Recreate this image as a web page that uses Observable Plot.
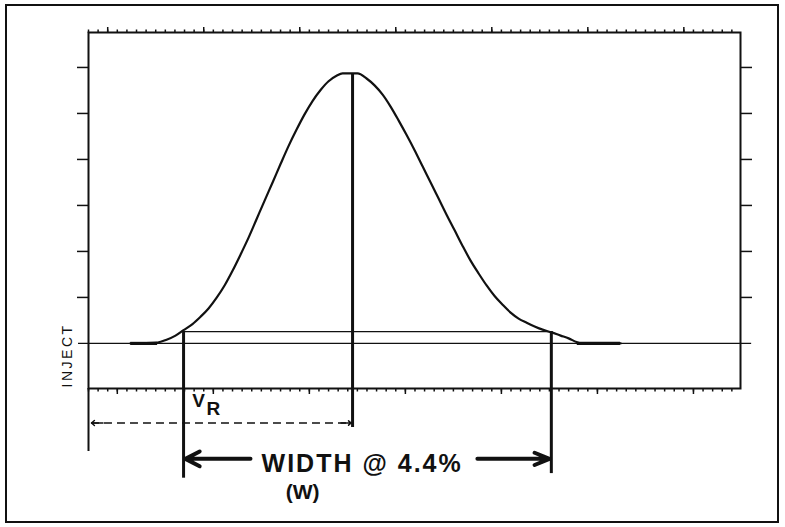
<!DOCTYPE html>
<html>
<head>
<meta charset="utf-8">
<script src="https://cdn.jsdelivr.net/npm/d3@7"></script>
<script src="https://cdn.jsdelivr.net/npm/@observablehq/plot@0.6"></script>
<style>
  html, body { margin: 0; padding: 0; background: #fff; }
  #wrap { position: relative; width: 785px; height: 527px; overflow: hidden; }
  #border { position: absolute; left: 5px; top: 4px; width: 774px; height: 519px; border: 2px solid #111; box-sizing: border-box; pointer-events: none; }
  #chart { position: absolute; left: 0; top: 0; }
</style>
</head>
<body>
<div id="wrap"><div id="chart"></div><div id="border"></div></div>
<script>
// ---- Peak profile (x in minor-tick units, y in y-tick units) ----
const curveX = [2.38, 5.19, 6.13, 7.06, 7.90, 8.83, 9.67, 10.50, 11.33, 12.17, 13.00, 13.83, 14.67, 15.50, 16.33, 17.17, 18.00, 18.83, 19.67, 20.50, 21.33, 22.17, 23.00, 23.83, 24.46, 25.50, 26.02, 26.96, 27.79, 28.63, 29.46, 30.29, 31.13, 31.96, 32.79, 33.63, 34.46, 35.29, 36.13, 36.96, 37.79, 38.63, 39.46, 40.29, 41.13, 41.96, 42.79, 43.63, 44.46, 45.29, 46.23, 47.17, 48.00, 48.83, 49.25, 53.42];
const curveY = [0, 0.02, 0.08, 0.17, 0.29, 0.42, 0.58, 0.76, 0.99, 1.26, 1.58, 1.93, 2.30, 2.70, 3.10, 3.50, 3.90, 4.29, 4.65, 4.98, 5.27, 5.51, 5.70, 5.82, 5.87, 5.87, 5.87, 5.76, 5.61, 5.41, 5.15, 4.85, 4.53, 4.20, 3.85, 3.50, 3.15, 2.80, 2.46, 2.12, 1.80, 1.52, 1.26, 1.03, 0.84, 0.67, 0.54, 0.45, 0.37, 0.30, 0.24, 0.17, 0.11, 0.03, 0, 0];
// flat (overdrawn) tails of the trace on the baseline
const tailStart = [2.4, 48.9];
const tailEnd = [5.2, 53.4];

// ---- Key values ----
const peakX = 25.5, peakY = 5.87;
const widthLevel = 0.258;          // 4.4% of peak height
const widthLeftX = 7.9, widthRightX = 46.2;
const injectLevel = 0;

// ---- Scale domains and ticks ----
const xDomain = [-2, 65.9];
const yDomain = [-0.98, 6.76];
const minorTicks = d3.range(-2, 66);
const topMajorTicks = [0, 10, 20, 30, 40, 50, 60];
const bottomMajorTicks = [1, 11, 21, 31, 41, 51, 61];
const yTicks = [1, 2, 3, 4, 5, 6];

// ---- Annotation levels (data units) ----
const baselineExtent = [-3.04, 67.06];
const peakLineBottom = -1.83, leftLineBottom = -2.93, rightLineBottom = -2.83;
const frameExtBottom = -2.35;
const vrArrowY = -1.73, vrArrowStart = -1.69;
const widthArrowY = -2.51, widthArrowInnerLeft = 14.87, widthArrowInnerRight = 38.5;
const vLabel = {text: "V", x: 8.8, y: -1.26};
const rLabel = {text: "R", x: 10.3, y: -1.43};
const widthLabel = {text: "WIDTH @ 4.4%", x: 26.5, y: -2.63};
const wLabel = {text: "(W)", x: 20.3, y: -3.23};
const injectLabel = {text: "INJECT", x: -4.15, y: -0.26};

const curve = curveX.map((x, i) => ({x, y: curveY[i]}));
const tails = tailStart.map((x1, i) => ({x1, x2: tailEnd[i]}));
const verticals = [
  {x: peakX, y1: peakY, y2: peakLineBottom},
  {x: widthLeftX, y1: widthLevel, y2: leftLineBottom},
  {x: widthRightX, y1: widthLevel, y2: rightLineBottom}
];
const blank = () => "";
const font = "Liberation Sans, Arial, sans-serif";
const ink = "#111";

const chart = Plot.plot({
  width: 785,
  height: 527,
  marginLeft: 88,
  marginRight: 45,
  marginTop: 32,
  marginBottom: 139,
  style: {background: "transparent", color: ink},
  x: {domain: xDomain, label: null},
  y: {domain: yDomain, label: null},
  marks: [
    Plot.axisX({anchor: "top", ticks: minorTicks, tickSize: 3.5, tickFormat: blank, label: null, stroke: ink, strokeWidth: 1.5, strokeOpacity: 1}),
    Plot.axisX({anchor: "top", ticks: topMajorTicks, tickSize: 6, tickFormat: blank, label: null, stroke: ink, strokeWidth: 1.5, strokeOpacity: 1}),
    Plot.axisX({anchor: "bottom", ticks: minorTicks, tickSize: 3.5, tickFormat: blank, label: null, stroke: ink, strokeWidth: 1.5, strokeOpacity: 1}),
    Plot.axisX({anchor: "bottom", ticks: bottomMajorTicks, tickSize: 6, tickFormat: blank, label: null, stroke: ink, strokeWidth: 1.5, strokeOpacity: 1}),
    Plot.axisY({anchor: "left", ticks: yTicks, tickSize: 11, tickFormat: blank, label: null, stroke: ink, strokeWidth: 1.5, strokeOpacity: 1}),
    Plot.axisY({anchor: "right", ticks: yTicks, tickSize: 11, tickFormat: blank, label: null, stroke: ink, strokeWidth: 1.5, strokeOpacity: 1}),
    Plot.frame({stroke: ink, strokeWidth: 2}),
    Plot.ruleX([xDomain[0]], {y1: yDomain[0], y2: frameExtBottom, stroke: ink, strokeWidth: 2}),
    Plot.ruleY([injectLevel], {x1: baselineExtent[0], x2: baselineExtent[1], stroke: ink, strokeWidth: 1.2}),
    Plot.ruleY([widthLevel], {x1: widthLeftX, x2: widthRightX, stroke: ink, strokeWidth: 1.2}),
    Plot.ruleY(tails, {x1: "x1", x2: "x2", y: () => injectLevel, stroke: ink, strokeWidth: 3.2}),
    Plot.line(curve, {x: "x", y: "y", curve: "monotone-x", stroke: ink, strokeWidth: 2.2, strokeLinejoin: "round"}),
    Plot.ruleX(verticals, {x: "x", y1: "y1", y2: "y2", stroke: ink, strokeWidth: 3}),
    // V_R dashed arrow
    Plot.ruleY([vrArrowY], {x1: vrArrowStart, x2: peakX, stroke: ink, strokeWidth: 1.5, strokeDasharray: "8,5"}),
    Plot.arrow([0], {x1: vrArrowStart + 1.2, x2: vrArrowStart, y1: vrArrowY, y2: vrArrowY, stroke: ink, strokeWidth: 1.5, headLength: 9, headAngle: 80}),
    Plot.arrow([0], {x1: peakX - 1.2, x2: peakX - 0.15, y1: vrArrowY, y2: vrArrowY, stroke: ink, strokeWidth: 1.5, headLength: 9, headAngle: 80}),
    // width arrows
    Plot.arrow([0], {x1: widthArrowInnerLeft, x2: widthLeftX + 0.2, y1: widthArrowY, y2: widthArrowY, stroke: ink, strokeWidth: 4, headLength: 6, headAngle: 55}),
    Plot.arrow([0], {x1: widthArrowInnerRight, x2: widthRightX - 0.2, y1: widthArrowY, y2: widthArrowY, stroke: ink, strokeWidth: 4, headLength: 6, headAngle: 45}),
    // labels
    Plot.text([vLabel, rLabel], {x: "x", y: "y", text: "text", fill: ink, fontSize: 19, fontWeight: "bold", fontFamily: font, textAnchor: "start", lineAnchor: "middle"}),
    Plot.text([widthLabel], {x: "x", y: "y", text: "text", fill: ink, fontSize: 25, fontWeight: "bold", fontFamily: font, lineAnchor: "middle"}),
    Plot.text([wLabel], {x: "x", y: "y", text: "text", fill: ink, fontSize: 21, fontWeight: "bold", fontFamily: font, lineAnchor: "middle"}),
    Plot.text([injectLabel], {x: "x", y: "y", text: "text", fill: ink, rotate: -90, fontSize: 14, fontFamily: font, lineAnchor: "middle"})
  ]
});
// letter spacing to mimic the wide bitmap lettering
d3.select(chart).selectAll("text").each(function() {
  const t = this.textContent;
  if (t === widthLabel.text) this.style.letterSpacing = "2px";
  if (t === injectLabel.text) this.style.letterSpacing = "2.5px";
});
document.getElementById("chart").appendChild(chart);
</script>
</body>
</html>
